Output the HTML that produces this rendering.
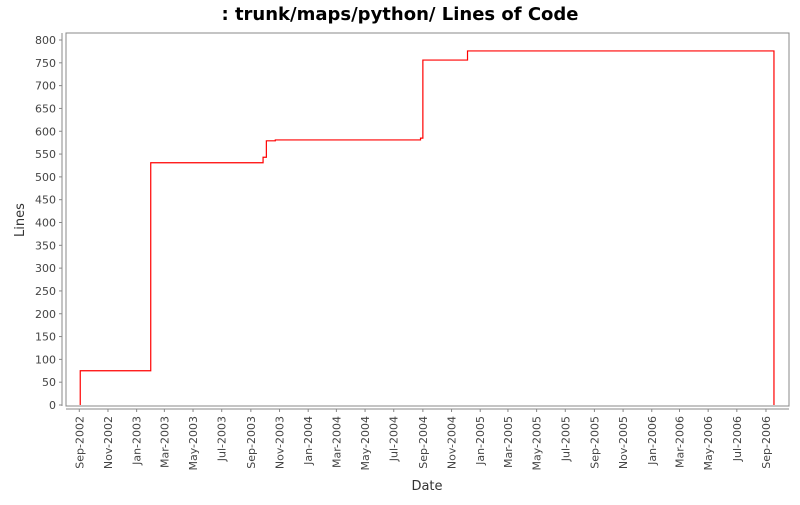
<!DOCTYPE html>
<html><head><meta charset="utf-8"><style>
body{margin:0;background:#fff;}
svg text{font-family:"DejaVu Sans","Liberation Sans",sans-serif;}
</style></head><body>
<svg id="chart" width="800" height="500">
<text x="400" y="20" text-anchor="middle" font-size="18" font-weight="bold" fill="#000">: trunk/maps/python/ Lines of Code</text>
<rect x="66" y="33" width="723" height="373" fill="#fff" stroke="#888" stroke-width="1"/>
<g id="yaxis"></g>
<g id="xaxis"></g>
<text transform="translate(24,220) rotate(-90)" text-anchor="middle" font-size="13" fill="#333">Lines</text>
<text x="427" y="490" text-anchor="middle" font-size="13" fill="#333">Date</text>
<g id="series"></g>
</svg>
<script>
const stepDates=["2002-09-03","2003-01-31","2003-09-27","2003-10-04","2003-10-23","2004-08-27","2004-09-01","2004-12-05","2006-09-18"];
const stepValues=[75,531,543,579,581,585,756,776,0];
const yTicks=[0,50,100,150,200,250,300,350,400,450,500,550,600,650,700,750,800];
const xTickLabels=["Sep-2002","Nov-2002","Jan-2003","Mar-2003","May-2003","Jul-2003","Sep-2003","Nov-2003","Jan-2004","Mar-2004","May-2004","Jul-2004","Sep-2004","Nov-2004","Jan-2005","Mar-2005","May-2005","Jul-2005","Sep-2005","Nov-2005","Jan-2006","Mar-2006","May-2006","Jul-2006","Sep-2006"];
const NS="http://www.w3.org/2000/svg";
const t0=Date.UTC(2002,8,1), pxPerDay=0.470, x0=79.3;
function xs(d){return x0+(new Date(d+"T00:00:00Z").getTime()-t0)/86400000*pxPerDay;}
function ys(v){return 405-v*0.45625;}
const mon={Jan:0,Feb:1,Mar:2,Apr:3,May:4,Jun:5,Jul:6,Aug:7,Sep:8,Oct:9,Nov:10,Dec:11};
function mk(tag,attrs,parent){const e=document.createElementNS(NS,tag);for(const k in attrs)e.setAttribute(k,attrs[k]);parent.appendChild(e);return e;}
const ya=document.getElementById('yaxis');
mk('line',{x1:62,y1:33,x2:62,y2:406,stroke:'#888'},ya);
yTicks.forEach(v=>{const y=ys(v);
 mk('line',{x1:59,y1:y,x2:62,y2:y,stroke:'#888'},ya);
 const t=mk('text',{x:56,y:y+4,'text-anchor':'end','font-size':'11',fill:'#444'},ya);t.textContent=v;
 
 
});
const xa=document.getElementById('xaxis');
mk('line',{x1:66,y1:409,x2:789,y2:409,stroke:'#888'},xa);
xTickLabels.forEach(l=>{const [m,y]=l.split('-');const d=new Date(Date.UTC(+y,mon[m],1)).toISOString().slice(0,10);const x=xs(d);
 mk('line',{x1:x,y1:409,x2:x,y2:412,stroke:'#888'},xa);
 const t=mk('text',{transform:`translate(${x+4},416) rotate(-90)`,'text-anchor':'end','font-size':'11',fill:'#444'},xa);t.textContent=l;
 
 
});
const sg=document.getElementById('series');
let d=`M${xs(stepDates[0])},${ys(0)} L${xs(stepDates[0])},${ys(stepValues[0])}`;
for(let i=1;i<stepDates.length;i++){const x=xs(stepDates[i]);d+=` L${x},${ys(stepValues[i-1])} L${x},${ys(stepValues[i])}`;}
const p=mk('path',{d:d,fill:'none',stroke:'#f00','stroke-width':'1.2'},sg);


</script>
</body></html>
